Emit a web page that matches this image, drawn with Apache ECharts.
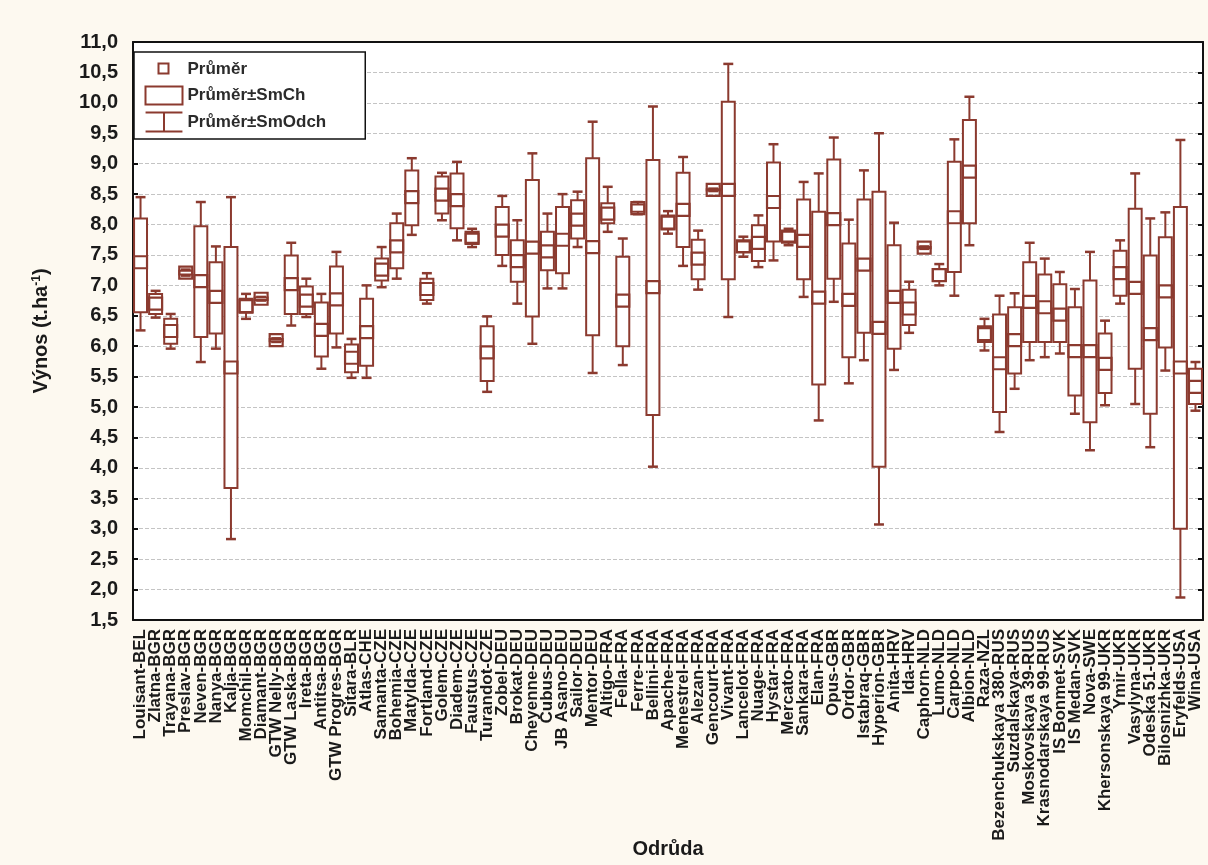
<!DOCTYPE html>
<html>
<head>
<meta charset="utf-8">
<script src="https://cdn.jsdelivr.net/npm/echarts@6/dist/echarts.min.js"></script>
<style>
html,body{margin:0;padding:0;background:#fdf9f0;}
#chart{width:1208px;height:865px;}
</style>
</head>
<body>
<div id="chart"></div>
<script>
const categories = [
  'Louisant-BEL','Zlatna-BGR','Trayana-BGR','Preslav-BGR','Neven-BGR','Nanya-BGR','Kalja-BGR','Momchil-BGR',
  'Diamant-BGR','GTW Nelly-BGR','GTW Laska-BGR','Ireta-BGR','Antitsa-BGR','GTW Progres-BGR','Sitara-BLR','Atlas-CHE',
  'Samanta-CZE','Bohemia-CZE','Matylda-CZE','Fortland-CZE','Golem-CZE','Diadem-CZE','Faustus-CZE','Turandot-CZE',
  'Zobel-DEU','Brokat-DEU','Cheyenne-DEU','Cubus-DEU','JB Asano-DEU','Sailor-DEU','Mentor-DEU','Altigo-FRA',
  'Fella-FRA','Ferre-FRA','Bellini-FRA','Apache-FRA','Menestrel-FRA','Alezan-FRA','Gencourt-FRA','Vivant-FRA',
  'Lancelot-FRA','Nuage-FRA','Hystar-FRA','Mercato-FRA','Sankara-FRA','Elan-FRA','Opus-GBR','Ordor-GBR',
  'Istabraq-GBR','Hyperion-GBR','Anita-HRV','Ida-HRV','Caphorn-NLD','Lumo-NLD','Carpo-NLD','Albion-NLD',
  'Raza-NZL','Bezenchukskaya 380-RUS','Suzdalskaya-RUS','Moskovskaya 39-RUS','Krasnodarskaya 99-RUS','IS Bonmet-SVK','IS Medan-SVK','Nova-SWE',
  'Khersonskaya 99-UKR','Ymir-UKR','Vasylyna-UKR','Odeska 51-UKR','Bilosnizhka-UKR','Eryfelds-USA','Wina-USA'
];
// mean - SD
const sdLow = [
  6.26,6.47,5.96,7.16,5.74,5.96,2.83,6.45, 6.75,6.07,6.34,6.48,5.63,5.98,5.48,5.48,
  6.97,7.11,7.83,6.70,8.07,7.74,7.63,5.25, 7.32,6.70,6.04,6.95,6.95,7.63,5.56,7.88,
  5.69,8.17,4.02,7.85,7.32,6.93,8.55,6.48, 7.47,7.30,7.41,7.66,6.81,4.78,6.73,5.39,
  5.77,3.07,5.61,6.22,7.60,7.00,6.83,7.66, 5.93,4.59,5.30,5.77,5.82,5.88,4.89,4.29,
  5.03,6.70,5.05,4.34,5.60,1.87,4.94
];
// mean - SE
const seLow = [
  6.56,6.53,6.04,7.18,6.15,6.21,3.67,6.55, 6.76,6.08,6.53,6.53,5.83,6.21,5.57,5.68,
  7.08,7.28,7.99,6.76,8.18,7.94,7.70,5.43, 7.50,7.06,6.49,7.25,7.20,7.77,6.18,8.02,
  6.00,8.21,4.87,7.92,7.63,7.10,8.56,7.10, 7.55,7.40,7.72,7.72,7.10,5.37,7.11,5.82,
  6.22,4.02,5.96,6.35,7.61,7.07,7.22,8.02, 6.07,4.92,5.55,6.07,6.07,6.07,5.19,4.75,
  5.23,6.83,5.63,4.89,5.98,3.00,5.05
];
// mean
const mean = [
  7.38,6.70,6.25,7.21,7.07,6.81,5.65,6.66, 6.78,6.10,7.02,6.75,6.27,6.77,5.81,6.23,
  7.26,7.64,8.45,6.94,8.49,8.40,7.78,5.90, 7.90,7.40,7.62,7.56,7.75,8.08,7.63,8.18,
  6.75,8.27,6.97,8.03,8.24,7.44,8.57,8.57, 7.64,7.70,8.37,7.80,7.73,6.80,8.09,6.76,
  7.34,6.30,6.81,6.62,7.62,7.17,8.12,8.87, 6.20,5.72,6.10,6.73,6.64,6.52,5.92,5.92,
  5.71,7.20,6.96,6.20,6.90,5.65,5.33
];
// mean + SE
const seHigh = [
  8.10,6.86,6.45,7.24,7.97,7.38,7.63,6.78, 6.80,6.12,7.49,6.98,6.72,7.31,6.03,6.78,
  7.44,8.02,8.89,7.11,8.79,8.84,7.85,6.33, 8.29,7.74,8.73,7.88,8.29,8.40,9.09,8.35,
  7.47,8.33,9.06,8.15,8.85,7.75,8.58,10.02, 7.72,7.99,9.02,7.88,8.41,8.21,9.07,7.69,
  8.41,8.54,7.66,6.93,7.63,7.27,9.03,9.72, 6.33,6.52,6.64,7.38,7.18,7.02,6.64,7.08,
  6.21,7.57,8.26,7.49,7.79,8.29,5.63
];
// mean + SD
const sdHigh = [
  8.45,6.91,6.53,7.26,8.37,7.64,8.45,6.86, 6.81,6.13,7.70,7.11,6.86,7.55,6.12,7.00,
  7.63,8.18,9.09,7.20,8.85,9.03,7.93,6.49, 8.47,8.07,9.17,8.18,8.50,8.54,9.69,8.62,
  7.77,8.37,9.94,8.22,9.11,7.90,8.59,10.64, 7.80,8.15,9.32,7.93,8.70,8.84,9.43,8.08,
  8.89,9.50,8.03,7.06,7.64,7.35,9.40,10.10, 6.45,6.83,6.87,7.70,7.44,7.22,6.94,7.55,
  6.42,7.74,8.84,8.10,8.20,9.39,5.74
];

const COLOR = '#8b3a2f';
const FONT = '"Liberation Sans", Arial, sans-serif';

const chart = echarts.init(document.getElementById('chart'));

function whiskerItem(params, api) {
  const i = api.value(0);
  const lo = api.coord([i, api.value(1)]);
  const hi = api.coord([i, api.value(2)]);
  const x = lo[0];
  const half = api.size([1, 0])[0] * 0.33;
  const st = {stroke: COLOR, lineWidth: 2};
  return {type: 'group', children: [
    {type: 'line', shape: {x1: x, y1: lo[1], x2: x, y2: hi[1]}, style: st},
    {type: 'line', shape: {x1: x - half, y1: hi[1], x2: x + half, y2: hi[1]}, style: {stroke: COLOR, lineWidth: 2.5}},
    {type: 'line', shape: {x1: x - half, y1: lo[1], x2: x + half, y2: lo[1]}, style: {stroke: COLOR, lineWidth: 2.5}}
  ]};
}
function boxItem(params, api) {
  const i = api.value(0);
  const lo = api.coord([i, api.value(1)]);
  const hi = api.coord([i, api.value(2)]);
  const w = api.size([1, 0])[0] * 0.86;
  return {type: 'rect', shape: {x: lo[0] - w / 2, y: hi[1], width: w, height: lo[1] - hi[1]},
    style: {fill: '#ffffff', stroke: COLOR, lineWidth: 2}};
}
function meanItem(params, api) {
  const i = api.value(0);
  const p = api.coord([i, api.value(1)]);
  const w = api.size([1, 0])[0] * 0.86;
  const h = 12;
  return {type: 'rect', shape: {x: p[0] - w / 2, y: p[1] - h / 2, width: w, height: h},
    style: {fill: 'none', stroke: COLOR, lineWidth: 2.2}};
}

const whiskerData = categories.map((c, i) => [i, sdLow[i], sdHigh[i]]);
const boxData = categories.map((c, i) => [i, seLow[i], seHigh[i]]);
const meanData = categories.map((c, i) => [i, mean[i]]);

const legendIconStyle = {color: 'none', borderColor: COLOR, borderWidth: 2};

chart.setOption({
  backgroundColor: '#fdf9f0',
  animation: false,
  grid: {left: 133, right: 5, top: 42, bottom: 245, show: true, backgroundColor: '#ffffff', borderWidth: 0,
    containLabel: false, outerBoundsMode: 'none'},
  legend: {
    orient: 'vertical', left: 134, top: 52,
    backgroundColor: '#ffffff', borderColor: '#111111', borderWidth: 1.5,
    padding: [5, 39, 5, 9], itemGap: 3, itemWidth: 37, itemHeight: 19,
    selectedMode: false,
    textStyle: {fontFamily: FONT, fontSize: 17, fontWeight: 'bold', color: '#2b2b2b'},
    data: [
      {name: 'Průměr', icon: 'path://M0,0M37,19M13,4h10v10h-10z', itemStyle: legendIconStyle},
      {name: 'Průměr±SmCh', icon: 'path://M1,1h35v17h-35z', itemStyle: legendIconStyle},
      {name: 'Průměr±SmOdch', icon: 'path://M2,1h33M18.5,1v17M2,18h33', itemStyle: legendIconStyle}
    ]
  },
  xAxis: [{
    type: 'category', data: categories, position: 'bottom', boundaryGap: true,
    axisLine: {lineStyle: {color: '#111111', width: 2}},
    axisTick: {inside: true, alignWithLabel: true, length: 4, lineStyle: {color: '#111111', width: 2}},
    axisLabel: {rotate: 90, interval: 0, fontFamily: FONT, fontSize: 17, fontWeight: 'bold', color: '#1a1a1a', margin: 9},
    splitLine: {show: false},
    name: 'Odrůda', nameLocation: 'middle', nameGap: 219, nameMoveOverlap: false,
    nameTextStyle: {fontFamily: FONT, fontSize: 20, fontWeight: 'bold', color: '#1a1a1a'}
  }, {
    type: 'category', data: categories, position: 'top', boundaryGap: true,
    axisLine: {lineStyle: {color: '#111111', width: 2}},
    axisTick: {inside: true, alignWithLabel: true, length: 4, lineStyle: {color: '#111111', width: 2}},
    axisLabel: {show: false}, splitLine: {show: false}
  }],
  yAxis: [{
    type: 'value', min: 1.5, max: 11, interval: 0.5,
    axisLine: {show: true, lineStyle: {color: '#111111', width: 2}},
    axisTick: {show: true, inside: true, length: 5, lineStyle: {color: '#111111', width: 2}},
    axisLabel: {fontFamily: FONT, fontSize: 20, fontWeight: 'bold', color: '#1a1a1a', margin: 15,
      formatter: v => v.toFixed(1).replace('.', ',')},
    splitLine: {show: true, lineStyle: {color: '#c4c4c4', type: [4, 2], width: 1}},
    name: 'Výnos (t.ha{sup|-1})', nameLocation: 'middle', nameGap: 82, nameMoveOverlap: false,
    nameTextStyle: {fontFamily: FONT, fontSize: 20, fontWeight: 'bold', color: '#1a1a1a',
      rich: {sup: {fontFamily: FONT, fontSize: 12, fontWeight: 'bold', color: '#1a1a1a', verticalAlign: 'top', lineHeight: 20}}}
  }, {
    type: 'value', min: 1.5, max: 11, interval: 0.5, position: 'right',
    axisLine: {show: true, lineStyle: {color: '#111111', width: 2}},
    axisTick: {show: true, inside: true, length: 5, lineStyle: {color: '#111111', width: 2}},
    axisLabel: {show: false}, splitLine: {show: false}
  }],
  series: [
    {name: 'Průměr±SmOdch', type: 'custom', renderItem: whiskerItem, data: whiskerData,
      encode: {x: 0, y: [1, 2]}, itemStyle: {color: COLOR}},
    {name: 'Průměr±SmCh', type: 'custom', renderItem: boxItem, data: boxData,
      encode: {x: 0, y: [1, 2]}, itemStyle: {color: COLOR}},
    {name: 'Průměr', type: 'custom', renderItem: meanItem, data: meanData,
      encode: {x: 0, y: 1}, itemStyle: {color: COLOR}}
  ]
});
</script>
</body>
</html>
